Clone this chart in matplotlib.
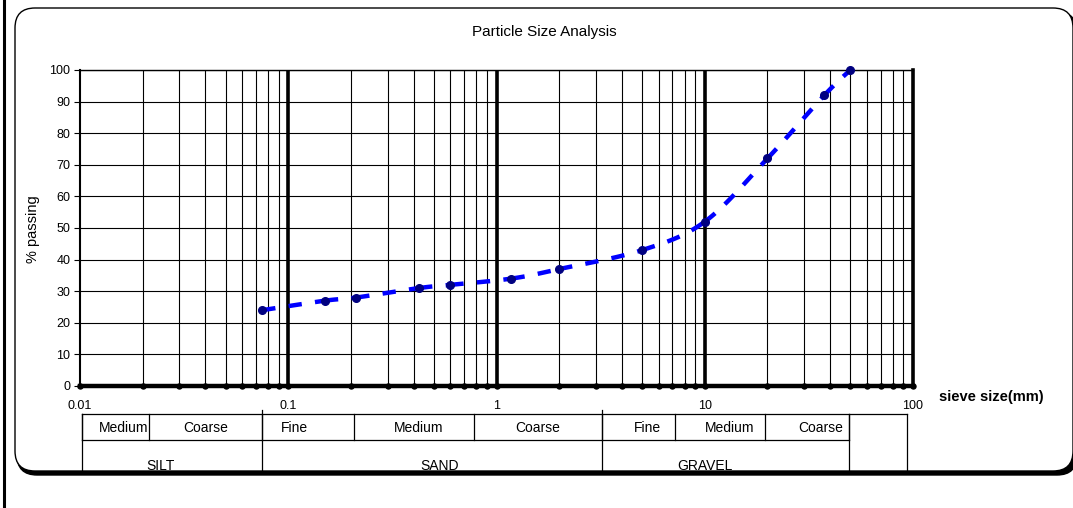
import numpy as np
import matplotlib
matplotlib.use("Agg")
import matplotlib.pyplot as plt
from matplotlib.patches import FancyBboxPatch
from matplotlib.lines import Line2D
import matplotlib.transforms as mtrans

plt.rcParams['font.family'] = ['Liberation Sans', 'DejaVu Sans']

# ---------------- data ----------------
sieve_sizes = [0.075, 0.15, 0.212, 0.425, 0.6, 1.18, 2.0, 5.0, 10.0, 20.0, 37.5, 50.0]
percent_passing = [24, 27, 28, 31, 32, 34, 37, 43, 52, 72, 92, 100]

x_tick_labels = ["0.01", "0.1", "1", "10", "100"]
y_ticks = [0, 10, 20, 30, 40, 50, 60, 70, 80, 90, 100]

sub_classes = ["Medium", "Coarse", "Fine", "Medium", "Coarse", "Fine", "Medium", "Coarse"]
main_classes = ["SILT", "SAND", "GRAVEL"]
# class boundaries (mm)
sub_bounds = [0.0102, 0.0215, 0.075, 0.207, 0.78, 3.2, 7.2, 19.4, 49.2]
main_bounds = [0.0102, 0.075, 3.2, 49.2]
table_right = 94.0

title = "Particle Size Analysis"
y_label = "% passing"
x_label = "sieve size(mm)"

# ---------------- figure ----------------
W, H = 1073, 508
fig = plt.figure(figsize=(W / 100, H / 100), dpi=100)
fig.patch.set_facecolor("white")

# outer frame line at far left
fig.add_artist(Line2D([4 / W, 4 / W], [0, 1], transform=fig.transFigure,
                      color="black", lw=2.2, zorder=-5))
# rounded chart-area box with shadow
shadow = FancyBboxPatch((0.17, 0.33), 10.60, 4.63,
                        boxstyle="round,pad=0,rounding_size=0.2",
                        transform=fig.dpi_scale_trans, fc="black", ec="black",
                        lw=1, zorder=-11)
box = FancyBboxPatch((0.15, 0.37), 10.58, 4.63,
                     boxstyle="round,pad=0,rounding_size=0.2",
                     transform=fig.dpi_scale_trans, fc="white", ec="black",
                     lw=1.0, zorder=-10)
fig.add_artist(shadow)
fig.add_artist(box)

ax = fig.add_axes([80 / W, 1 - 386 / H, (913 - 80) / W, (386 - 70) / H])
ax.set_xscale("log")
ax.set_xlim(0.01, 100)
ax.set_ylim(0, 100)
ax.patch.set_facecolor("white")

# vertical grid: 1..9 x 10^n
decades = [0.01, 0.1, 1, 10]
grid_x = [k * d for d in decades for k in range(1, 10)] + [100]
for gx in grid_x[1:-1]:
    is_major = any(abs(gx - d) < 1e-12 for d in decades)
    ax.axvline(gx, color="black", lw=2.6 if is_major else 0.8, zorder=1)

ax.set_yticks(y_ticks)
ax.yaxis.grid(True, color="black", lw=0.8, zorder=1)
ax.set_axisbelow(True)

ax.set_xticks([0.01, 0.1, 1, 10, 100])
ax.set_xticklabels(x_tick_labels)
ax.xaxis.set_minor_locator(matplotlib.ticker.NullLocator())
ax.tick_params(axis="x", length=0, pad=10, labelsize=9)
ax.tick_params(axis="y", length=4, width=0.8, direction="out", pad=3, labelsize=9)

for side, lw in [("left", 1.5), ("top", 1.0), ("right", 2.6), ("bottom", 3.2)]:
    ax.spines[side].set_linewidth(lw)
    ax.spines[side].set_color("black")
    ax.spines[side].set_zorder(3)

# dots on bottom axis at each grid position
ax.plot(grid_x, [0] * len(grid_x), "o", ms=3.6, color="black",
        clip_on=False, zorder=6)

# ---------------- smoothed dashed curve (Excel-like) ----------------
u = np.log10(np.array(sieve_sizes, dtype=float))
v = np.array(percent_passing, dtype=float) * (3.16 / 208.6)
P = np.column_stack([u, v])
n = len(P)
for i in range(n - 1):
    p0 = P[i - 1] if i > 0 else P[i]
    p1 = P[i]
    p2 = P[i + 1]
    p3 = P[i + 2] if i + 2 < n else P[i + 1]
    c1 = p1 + (p2 - p0) / 6.0
    c2 = p2 - (p3 - p1) / 6.0
    t = np.linspace(0, 1, 40)[:, None]
    seg = ((1 - t) ** 3) * p1 + 3 * ((1 - t) ** 2) * t * c1 + 3 * (1 - t) * t ** 2 * c2 + t ** 3 * p2
    ax.plot(10 ** seg[:, 0], seg[:, 1] * (208.6 / 3.16), color="#0000FF",
            lw=3.2, dashes=(3, 3), solid_capstyle="butt",
            dash_capstyle="butt", zorder=4, clip_on=False)

ax.plot(sieve_sizes, percent_passing, "o", color="#000080", ms=5.5,
        zorder=5, clip_on=False)

# ---------------- labels ----------------
fig.text(544 / W, 1 - 32 / H, title, ha="center", va="center", fontsize=11)
fig.text(33 / W, 1 - 229 / H, y_label, rotation=90, ha="center", va="center",
         fontsize=10.5)
fig.text(991 / W, 1 - 397 / H, x_label, ha="center", va="center",
         fontsize=10.5, fontweight="bold")

# ---------------- classification table ----------------
tr = mtrans.blended_transform_factory(ax.transData, ax.transAxes)
y_top, y_mid, y_bot = -0.0886, -0.1709, -0.269
lk = dict(color="black", lw=0.9, transform=tr, clip_on=False, zorder=6)
ax.plot([sub_bounds[0], table_right], [y_top, y_top], **lk)
ax.plot([sub_bounds[0], sub_bounds[-1]], [y_mid, y_mid], **lk)
for b in sub_bounds:
    ax.plot([b, b], [y_top, y_mid], **lk)
for b in main_bounds:
    ext = 0.012 if b in (0.075, 3.2) else 0.0
    ax.plot([b, b], [y_top + ext, y_bot], **lk)
ax.plot([table_right, table_right], [y_top, y_bot], **lk)

sub_pos = [(0.01616, "center"), (0.0401, "center"), (0.092, "left"),
           (0.4216, "center"), (1.57, "center"), (6.17, "right"),
           (17.4, "right"), (46.4, "right")]
for lab, (px, ha) in zip(sub_classes, sub_pos):
    ax.text(px, -0.133, lab, transform=tr, ha=ha, va="center", fontsize=10,
            clip_on=False)
main_pos = [0.0244, 0.532, 10.0]
for lab, px in zip(main_classes, main_pos):
    ax.text(px, -0.253, lab, transform=tr, ha="center", va="center",
            fontsize=10, clip_on=False)

fig.savefig("out.png", dpi=100, facecolor="white")
